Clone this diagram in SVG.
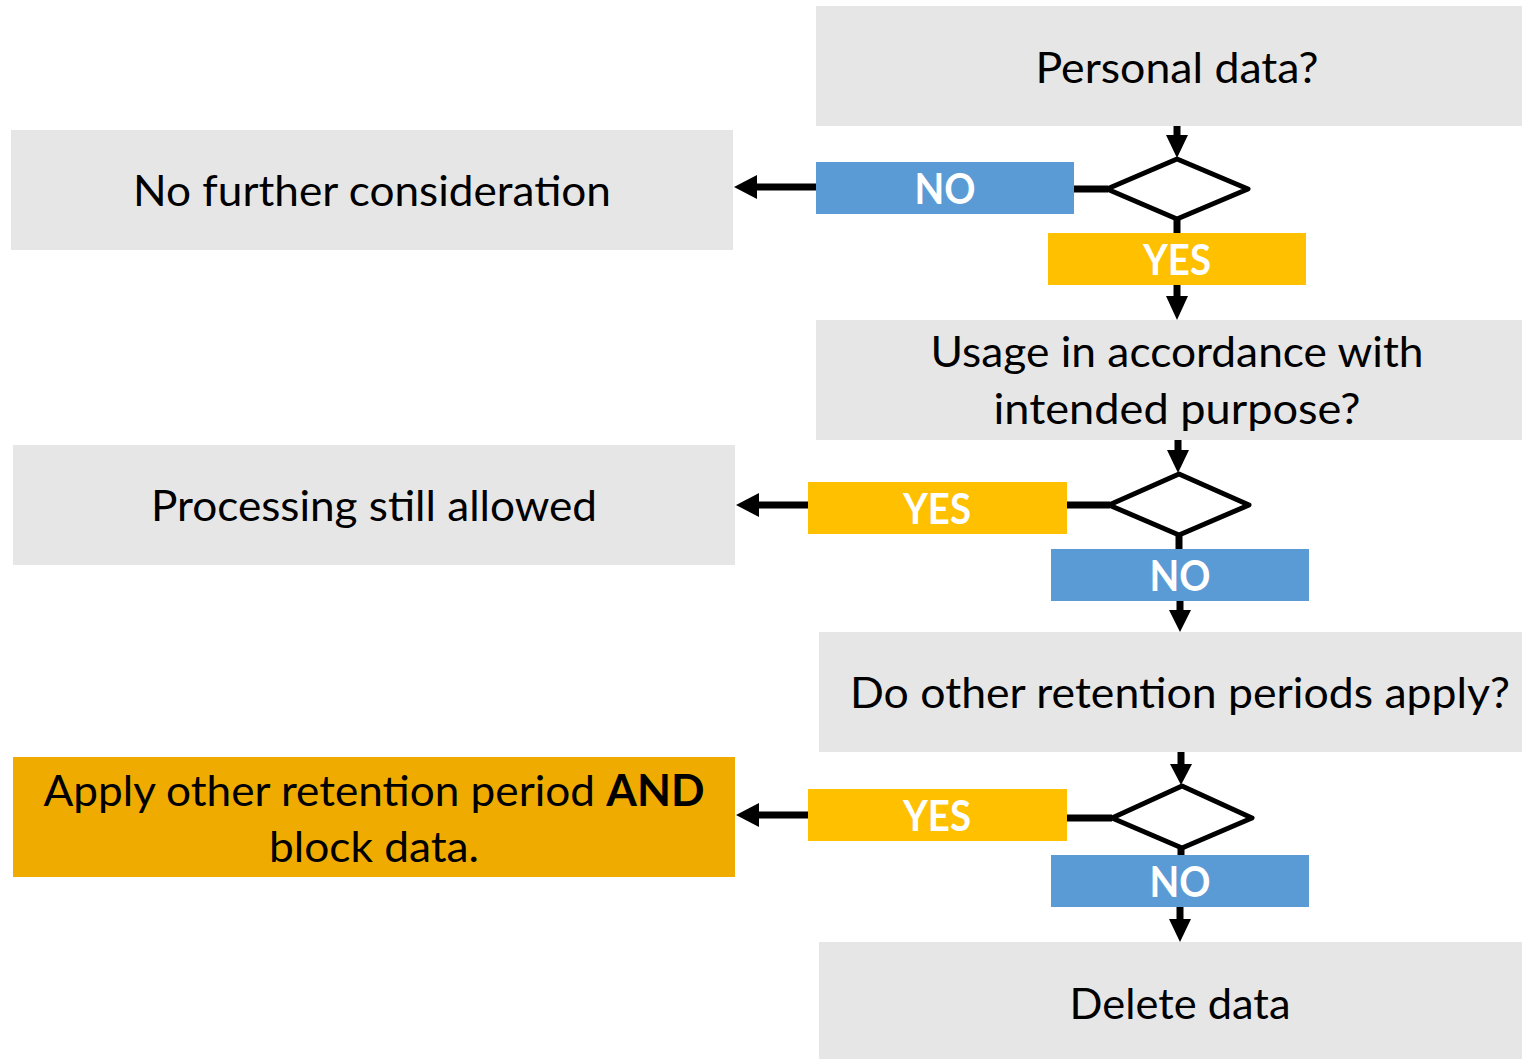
<svg xmlns="http://www.w3.org/2000/svg" width="1522" height="1059" viewBox="0 0 1522 1059">
<style>
.box{fill:#E7E6E6}
.t{font-family:Lato,"Open Sans","Liberation Sans",sans-serif;font-size:43px;fill:#000;text-anchor:middle}
.lb{font-family:Lato,"Open Sans","Liberation Sans",sans-serif;font-size:42px;font-weight:bold;fill:#fff;text-anchor:middle}
.blue{fill:#5B9BD5}
.yel{fill:#FFC000}
.ln{stroke:#000;stroke-width:7;fill:none}
.dia{stroke:#000;stroke-width:5;fill:#fff;stroke-linejoin:round}
.ah{fill:#000}
</style>
<rect width="1522" height="1059" fill="#fff"/>
<g id="n-personal"><rect class="box" x="816" y="6" width="706" height="120"/><text class="t" x="1177" y="83" textLength="283" lengthAdjust="spacingAndGlyphs">Personal data?</text></g>
<g id="n-nofurther"><rect class="box" x="11" y="130" width="722" height="120"/><text class="t" x="372" y="206" textLength="478" lengthAdjust="spacingAndGlyphs">No further consideration</text></g>
<g id="n-usage"><rect class="box" x="816" y="320" width="706" height="120"/><text class="t" x="1177" y="367" textLength="493" lengthAdjust="spacingAndGlyphs">Usage in accordance with</text><text class="t" x="1177" y="424" textLength="367" lengthAdjust="spacingAndGlyphs">intended purpose?</text></g>
<g id="n-processing"><rect class="box" x="13" y="445" width="722" height="120"/><text class="t" x="374" y="521" textLength="446" lengthAdjust="spacingAndGlyphs">Processing still allowed</text></g>
<g id="n-retention"><rect class="box" x="819" y="632" width="703" height="120"/><text class="t" x="1180" y="708" textLength="660" lengthAdjust="spacingAndGlyphs">Do other retention periods apply?</text></g>
<g id="n-apply"><rect x="13" y="757" width="722" height="120" fill="#EFAB00"/><text class="t" x="374" y="806" textLength="661" lengthAdjust="spacingAndGlyphs">Apply other retention period <tspan font-weight="bold">AND</tspan></text><text class="t" x="374" y="862" textLength="210" lengthAdjust="spacingAndGlyphs">block data.</text></g>
<g id="n-delete"><rect class="box" x="819" y="942" width="703" height="117"/><text class="t" x="1180" y="1019" textLength="221" lengthAdjust="spacingAndGlyphs">Delete data</text></g>
<g id="connectors">
<path class="ln" d="M1177 126V138"/><path class="ah" d="M1166 135H1188L1177 158Z"/>
<path class="ln" d="M1074 189H1108"/>
<path class="ln" d="M816 187H755"/><path class="ah" d="M757 175V199L734 187Z"/>
<path class="ln" d="M1177 219V234"/>
<path class="ln" d="M1177 284V298"/><path class="ah" d="M1166 296H1188L1177 320Z"/>
<polygon class="dia" points="1107,189 1177,159 1248,189 1177,219"/>
<path class="ln" d="M1178 440V453"/><path class="ah" d="M1167 450H1189L1178 473Z"/>
<path class="ln" d="M1067 505H1110"/>
<path class="ln" d="M808 505H757"/><path class="ah" d="M759 493V517L736 505Z"/>
<path class="ln" d="M1179 534V550"/>
<path class="ln" d="M1180 600V612"/><path class="ah" d="M1169 610H1191L1180 632Z"/>
<polygon class="dia" points="1109,505 1179,474 1249,505 1179,535"/>
<path class="ln" d="M1181 752V766"/><path class="ah" d="M1170 764H1192L1181 785Z"/>
<path class="ln" d="M1067 818H1112"/>
<path class="ln" d="M808 815H757"/><path class="ah" d="M759 803V827L736 815Z"/>
<path class="ln" d="M1181 847V856"/>
<path class="ln" d="M1180 906V921"/><path class="ah" d="M1169 919H1191L1180 942Z"/>
<polygon class="dia" points="1112,818 1182,786 1252,818 1182,848"/>
</g>
<g id="l-no1"><rect class="blue" x="816" y="162" width="258" height="52"/><text class="lb" x="945" y="204" textLength="61" lengthAdjust="spacingAndGlyphs">NO</text></g>
<g id="l-yes1"><rect class="yel" x="1048" y="233" width="258" height="52"/><text class="lb" x="1177" y="275" textLength="68" lengthAdjust="spacingAndGlyphs">YES</text></g>
<g id="l-yes2"><rect class="yel" x="808" y="482" width="259" height="52"/><text class="lb" x="937" y="524" textLength="68" lengthAdjust="spacingAndGlyphs">YES</text></g>
<g id="l-no2"><rect class="blue" x="1051" y="549" width="258" height="52"/><text class="lb" x="1180" y="591" textLength="61" lengthAdjust="spacingAndGlyphs">NO</text></g>
<g id="l-yes3"><rect class="yel" x="808" y="789" width="259" height="52"/><text class="lb" x="937" y="831" textLength="68" lengthAdjust="spacingAndGlyphs">YES</text></g>
<g id="l-no3"><rect class="blue" x="1051" y="855" width="258" height="52"/><text class="lb" x="1180" y="897" textLength="61" lengthAdjust="spacingAndGlyphs">NO</text></g>
</svg>
